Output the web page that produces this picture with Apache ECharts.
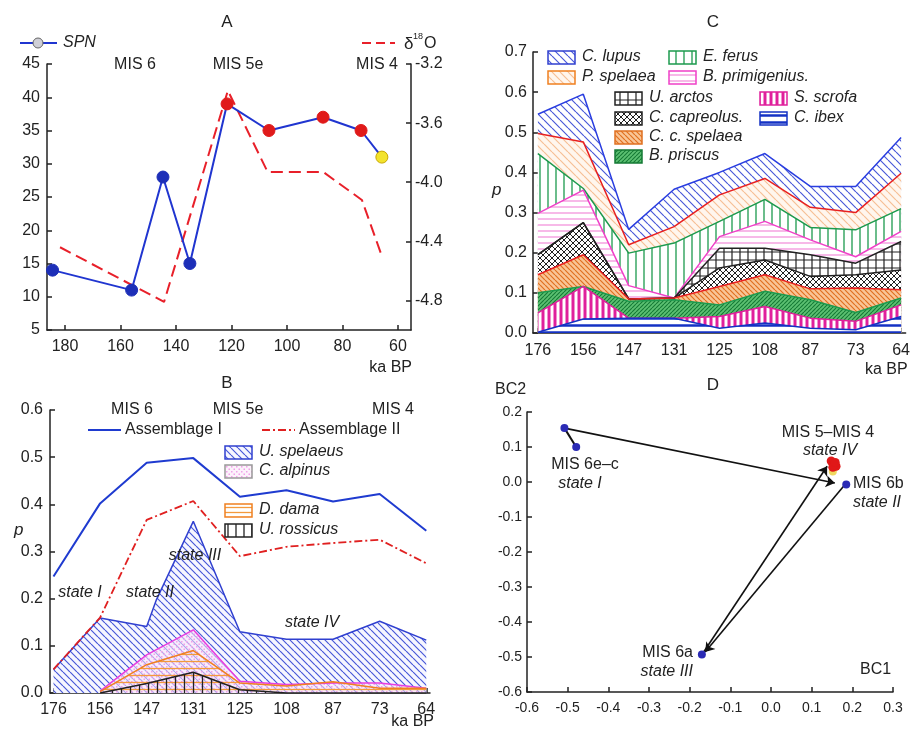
<!DOCTYPE html>
<html>
<head>
<meta charset="utf-8">
<script src="https://cdn.jsdelivr.net/npm/echarts@6/dist/echarts.min.js"></script>
<style>
html,body{margin:0;padding:0;background:#fff}
#main{width:913px;height:732px}
</style>
</head>
<body>
<div id="main"></div>
<script>
// ---- panel A: SPN and d18O against age (ka BP)
const spnAge = [184.5, 156, 144.7, 135, 121.6, 106.5, 87, 73.3, 65.8];
const spnVal = [14, 11, 28, 15, 39, 35, 37, 35, 31];
const spnState = ['b', 'b', 'b', 'b', 'r', 'r', 'r', 'r', 'y'];
const d18Age = [181.8, 144.3, 121.3, 107, 87, 73, 65.8];
const d18Val = [-4.44, -4.81, -3.38, -3.93, -3.93, -4.12, -4.5];
const ageTicksA = [180, 160, 140, 120, 100, 80, 60];
const d18Ticks = [-4.8, -4.4, -4.0, -3.6, -3.2];

// ---- panel B: assemblage I / II and species proportions
const ageCats = ['176', '156', '147', '131', '125', '108', '87', '73', '64'];
const assemblageI = [0.247, 0.402, 0.488, 0.498, 0.416, 0.43, 0.406, 0.422, 0.344];
const assemblageII = [0.05, 0.16, 0.367, 0.407, 0.29, 0.31, 0.318, 0.325, 0.275];
const uSpelaeusPos = [0, 1, 2, 2.21, 3, 4, 5, 6, 7, 8];
const uSpelaeus = [0.05, 0.159, 0.141, 0.198, 0.364, 0.13, 0.114, 0.114, 0.152, 0.112];
const cAlpinus = [null, 0.004, 0.081, 0.134, 0.025, 0.018, 0.021, 0.021, 0.01];
const dDama = [null, 0.003, 0.06, 0.09, 0.021, 0.015, 0.024, 0.01, 0.01];
const uRossicus = [null, 0, 0.02, 0.044, 0.007, 0, 0, 0, 0];

// ---- panel C: cumulative proportions (upper boundary of each band)
const cLupus = [0.545, 0.595, 0.258, 0.358, 0.40, 0.447, 0.365, 0.365, 0.487];
const pSpelaea = [0.497, 0.476, 0.22, 0.265, 0.344, 0.385, 0.313, 0.30, 0.398];
const eFerus = [0.447, 0.36, 0.199, 0.224, 0.278, 0.333, 0.263, 0.257, 0.31];
const bPrimigenius = [0.298, 0.356, 0.118, 0.087, 0.24, 0.278, 0.232, 0.19, 0.253];
const uArctos = [0.195, 0.275, 0.085, 0.087, 0.211, 0.211, 0.195, 0.174, 0.228];
const cCapreolus = [0.195, 0.275, 0.085, 0.087, 0.162, 0.182, 0.141, 0.145, 0.157];
const ccSpelaea = [0.145, 0.195, 0.085, 0.087, 0.116, 0.145, 0.11, 0.112, 0.108];
const bPriscus = [0.10, 0.116, 0.079, 0.083, 0.07, 0.104, 0.083, 0.051, 0.087];
const sScrofa = [0.05, 0.116, 0.037, 0.037, 0.041, 0.066, 0.037, 0.029, 0.07];
const cIbex = [0.002, 0.035, 0.037, 0.037, 0.012, 0.025, 0.012, 0.008, 0.041];

// ---- panel D: BC1 / BC2 ordination
const stateBlue = [[-0.508, 0.154], [-0.479, 0.10], [0.185, -0.007], [-0.17, -0.493]];
const stateRed = [[0.148, 0.06], [0.155, 0.05], [0.16, 0.045], [0.152, 0.042], [0.158, 0.056]];
const stateYellow = [[0.152, 0.03]];
const bcLink = [[-0.508, 0.154], [-0.479, 0.10]];
const bcArrows = [
  [[-0.508, 0.154], [0.157, -0.003]],
  [[0.18, -0.01], [-0.162, -0.486]],
  [[-0.168, -0.49], [0.138, 0.045]]
];

function hatch(kind, line, bg, s, w) {
  const c = document.createElement('canvas');
  c.width = s; c.height = s;
  const g = c.getContext('2d');
  if (bg) { g.fillStyle = bg; g.fillRect(0, 0, s, s); }
  g.strokeStyle = line; g.fillStyle = line; g.lineWidth = w;
  g.beginPath();
  if (kind === 'back' || kind === 'cross') {
    for (const k of [-s, 0, s]) { g.moveTo(k, 0); g.lineTo(k + s, s); }
  }
  if (kind === 'fwd' || kind === 'cross') {
    for (const k of [-s, 0, s]) { g.moveTo(k, s); g.lineTo(k + s, 0); }
  }
  if (kind === 'v' || kind === 'grid') { g.moveTo(s / 2, 0); g.lineTo(s / 2, s); }
  if (kind === 'h' || kind === 'grid') { g.moveTo(0, s / 2); g.lineTo(s, s / 2); }
  g.stroke();
  if (kind === 'dots') { g.fillRect(1, 1, 1.5, 1.5); g.fillRect(s / 2 + 1, s / 2 + 1, 1.5, 1.5); }
  return { image: c, repeat: 'repeat' };
}

const pat = {
  uSpel: hatch('back', '#4858d8', '#f6f6ff', 7, 1.2),
  cAlp: hatch('dots', '#f0a0ea', 'rgba(252,230,250,0.55)', 5, 1),
  dDama: hatch('h', '#f39a3c', null, 7, 1.3),
  uRoss: hatch('v', '#222', null, 9, 1.3),
  cLup: hatch('back', '#4a5ad8', '#ffffff', 8, 1.2),
  pSpel: hatch('back', '#f6bf95', '#fff6ee', 8, 1.2),
  eFer: hatch('v', '#1d9a4e', '#ffffff', 8, 1.3),
  bPrim: hatch('h', '#f28ad8', '#ffffff', 6, 1.2),
  uArc: hatch('grid', '#222', '#ffffff', 8, 1.2),
  cCap: hatch('cross', '#222', '#ffffff', 6, 1),
  ccSpel: hatch('back', '#e07020', '#f9c596', 5, 1.2),
  bPris: hatch('fwd', '#157a35', '#5cc072', 4, 1.1),
  sScr: hatch('v', '#e0209c', '#ffffff', 6, 3),
  cIbex: hatch('h', '#1432c4', '#ffffff', 7, 2.5)
};
const legPat = {
  cAlp: hatch('dots', '#f0a0ea', '#fcf2fb', 5, 1),
  dDama: hatch('h', '#f39a3c', '#ffffff', 5, 1.3),
  uRoss: hatch('v', '#222', '#ffffff', 8, 1.3)
};

const FONT = 'Liberation Sans, Arial, sans-serif';
const axisLine = { onZero: false, lineStyle: { color: '#222', width: 1.5 } };
const tick = { inside: true, length: 5, lineStyle: { color: '#222', width: 1.5 } };
const lbl = (size, margin, fmt) => ({ fontFamily: FONT, fontSize: size, color: '#222', margin: margin, formatter: fmt });
const f1 = v => (Math.abs(v) < 1e-9 ? '0.0' : v.toFixed(1));
const catFmt = v => ageCats[Math.round(v)];

function band(name, xi, yi, data, fill, edge, w) {
  return {
    name: name, type: 'line', xAxisIndex: xi, yAxisIndex: yi,
    data: data.map((v, i) => [i, v]), symbol: 'none',
    lineStyle: { color: edge, width: w || 1.5 },
    areaStyle: { color: fill, opacity: 1 }
  };
}

function txt(x, y, s, opt) {
  return {
    type: 'text', x: x, y: y, z: 100,
    style: Object.assign({ text: s, fontFamily: FONT, fontSize: 16, fill: '#222', textAlign: 'left', textVerticalAlign: 'middle' }, opt || {})
  };
}

function legendBox(x, y, fill, stroke, label) {
  return [
    { type: 'rect', z: 100, shape: { x: x, y: y - 6, width: 27, height: 13 }, style: { fill: fill, stroke: stroke, lineWidth: 1.5 } },
    txt(x + 34, y, label, { fontStyle: 'italic' })
  ];
}

const chart = echarts.init(document.getElementById('main'));

const graphics = [
  // titles
  txt(227, 22, 'A', { textAlign: 'center', fontSize: 17 }),
  txt(227, 383, 'B', { textAlign: 'center', fontSize: 17 }),
  txt(713, 22, 'C', { textAlign: 'center', fontSize: 17 }),
  txt(713, 385, 'D', { textAlign: 'center', fontSize: 17 }),
  // panel A
  { type: 'line', z: 100, shape: { x1: 20, y1: 43, x2: 57, y2: 43 }, style: { stroke: '#2035d0', lineWidth: 2 } },
  { type: 'circle', z: 101, shape: { cx: 38, cy: 43, r: 5 }, style: { fill: '#cfcfd6', stroke: '#666', lineWidth: 1 } },
  txt(63, 43, 'SPN', { fontStyle: 'italic' }),
  { type: 'line', z: 100, shape: { x1: 362, y1: 43, x2: 395, y2: 43 }, style: { stroke: '#e8202a', lineWidth: 2, lineDash: [9, 5] } },
  txt(404, 44, 'δ', { fontSize: 17 }),
  txt(413, 37, '18', { fontSize: 9 }),
  txt(424, 44, 'O', { fontSize: 16 }),
  txt(135, 65, 'MIS 6', { textAlign: 'center' }),
  txt(238, 65, 'MIS 5e', { textAlign: 'center' }),
  txt(377, 65, 'MIS 4', { textAlign: 'center' }),
  txt(412, 368, 'ka BP', { textAlign: 'right' }),
  // panel B
  txt(132, 410, 'MIS 6', { textAlign: 'center' }),
  txt(238, 410, 'MIS 5e', { textAlign: 'center' }),
  txt(393, 410, 'MIS 4', { textAlign: 'center' }),
  { type: 'line', z: 100, shape: { x1: 88, y1: 430, x2: 121, y2: 430 }, style: { stroke: '#1f3bd0', lineWidth: 2 } },
  txt(125, 430, 'Assemblage I'),
  { type: 'line', z: 100, shape: { x1: 262, y1: 430, x2: 295, y2: 430 }, style: { stroke: '#e02020', lineWidth: 1.8, lineDash: [8, 3, 2, 3] } },
  txt(299, 430, 'Assemblage II'),
  ...legendBox(225, 452, pat.uSpel, '#3040d0', 'U. spelaeus'),
  ...legendBox(225, 471, legPat.cAlp, '#999', 'C. alpinus'),
  ...legendBox(225, 510, legPat.dDama, '#f08020', 'D. dama'),
  ...legendBox(225, 530, legPat.uRoss, '#222', 'U. rossicus'),
  txt(80, 593, 'state I', { fontStyle: 'italic', textAlign: 'center' }),
  txt(150, 593, 'state II', { fontStyle: 'italic', textAlign: 'center' }),
  txt(195, 556, 'state III', { fontStyle: 'italic', textAlign: 'center' }),
  txt(312, 623, 'state IV', { fontStyle: 'italic', textAlign: 'center' }),
  txt(14, 530, 'p', { fontStyle: 'italic', fontSize: 17 }),
  txt(434, 722, 'ka BP', { textAlign: 'right' }),
  // panel C
  ...legendBox(548, 57, pat.cLup, '#3040d0', 'C. lupus'),
  ...legendBox(669, 57, pat.eFer, '#1d9a4e', 'E. ferus'),
  ...legendBox(548, 77, pat.pSpel, '#f08020', 'P. spelaea'),
  ...legendBox(669, 77, pat.bPrim, '#f040c8', 'B. primigenius.'),
  ...legendBox(615, 98, pat.uArc, '#222', 'U. arctos'),
  ...legendBox(760, 98, pat.sScr, '#e0209c', 'S. scrofa'),
  ...legendBox(615, 118, pat.cCap, '#222', 'C. capreolus.'),
  ...legendBox(760, 118, pat.cIbex, '#1432c4', 'C. ibex'),
  ...legendBox(615, 137, pat.ccSpel, '#e07020', 'C. c. spelaea'),
  ...legendBox(615, 156, pat.bPris, '#157a35', 'B. priscus'),
  txt(492, 190, 'p', { fontStyle: 'italic', fontSize: 17 }),
  txt(865, 370, 'ka BP'),
  // panel D
  txt(495, 390, 'BC2'),
  txt(860, 670, 'BC1'),
  txt(585, 465, 'MIS 6e–c', { textAlign: 'center' }),
  txt(580, 484, 'state I', { fontStyle: 'italic', textAlign: 'center' }),
  txt(828, 433, 'MIS 5–MIS 4', { textAlign: 'center' }),
  txt(830, 451, 'state IV', { fontStyle: 'italic', textAlign: 'center' }),
  txt(853, 484, 'MIS 6b'),
  txt(853, 503, 'state II', { fontStyle: 'italic' }),
  txt(693, 653, 'MIS 6a', { textAlign: 'right' }),
  txt(693, 672, 'state III', { fontStyle: 'italic', textAlign: 'right' })
];

const spnColors = { b: '#1d2fb8', r: '#e01a1a', y: '#f3e32c' };

chart.setOption({
  backgroundColor: '#ffffff',
  animation: false,
  grid: [
    { left: 47, top: 64, width: 364, height: 266 },
    { left: 50, top: 410, width: 380, height: 283 },
    { left: 533, top: 52, width: 380, height: 281 },
    { left: 527, top: 412, width: 366, height: 280 }
  ],
  xAxis: [
    { gridIndex: 0, type: 'value', inverse: true, min: 55.3, max: 186.5, axisLine: axisLine,
      axisTick: Object.assign({ customValues: ageTicksA }, tick), splitLine: { show: false },
      axisLabel: Object.assign({ customValues: ageTicksA }, lbl(16, 9)) },
    { gridIndex: 1, type: 'value', min: -0.075, max: 8.08, axisLine: axisLine,
      axisTick: Object.assign({ customValues: ageCats.map((c, i) => i) }, tick), splitLine: { show: false },
      axisLabel: Object.assign({ customValues: ageCats.map((c, i) => i) }, lbl(16, 9, catFmt)) },
    { gridIndex: 2, type: 'value', min: -0.108, max: 8.1, axisLine: axisLine,
      axisTick: Object.assign({ customValues: ageCats.map((c, i) => i) }, tick), splitLine: { show: false },
      axisLabel: Object.assign({ customValues: ageCats.map((c, i) => i) }, lbl(16, 10, catFmt)) },
    { gridIndex: 3, type: 'value', min: -0.6, max: 0.3, interval: 0.1, axisLine: axisLine,
      axisTick: tick, splitLine: { show: false }, axisLabel: lbl(14, 9, f1) }
  ],
  yAxis: [
    { gridIndex: 0, type: 'value', min: 5, max: 45, interval: 5, axisLine: axisLine, axisTick: tick,
      splitLine: { show: false }, axisLabel: lbl(16, 7) },
    { gridIndex: 0, type: 'value', position: 'right', min: -5.0, max: -3.2, axisLine: Object.assign({ show: true }, axisLine),
      axisTick: Object.assign({ customValues: d18Ticks }, tick), splitLine: { show: false },
      axisLabel: Object.assign({ customValues: d18Ticks }, lbl(16, 4, f1)) },
    { gridIndex: 1, type: 'value', min: 0, max: 0.6, interval: 0.1, axisLine: axisLine, axisTick: tick,
      splitLine: { show: false }, axisLabel: lbl(16, 7, f1) },
    { gridIndex: 2, type: 'value', min: 0, max: 0.7, interval: 0.1, axisLine: axisLine, axisTick: tick,
      splitLine: { show: false }, axisLabel: lbl(16, 6, f1) },
    { gridIndex: 3, type: 'value', min: -0.6, max: 0.2, interval: 0.1, axisLine: axisLine, axisTick: tick,
      splitLine: { show: false }, axisLabel: lbl(14, 5, f1) }
  ],
  series: [
    // A
    { name: 'd18O', type: 'line', xAxisIndex: 0, yAxisIndex: 1, symbol: 'none',
      data: d18Age.map((a, i) => [a, d18Val[i]]),
      lineStyle: { color: '#e8202a', width: 2, type: [12, 6] } },
    { name: 'SPN', type: 'line', xAxisIndex: 0, yAxisIndex: 0, symbol: 'circle', symbolSize: 12,
      data: spnAge.map((a, i) => ({ value: [a, spnVal[i]], itemStyle: { color: spnColors[spnState[i]], borderColor: spnState[i] === 'y' ? '#c9a800' : spnColors[spnState[i]], borderWidth: 1 } })),
      lineStyle: { color: '#2035d0', width: 2 } },
    // B
    { name: 'U. spelaeus', type: 'line', xAxisIndex: 1, yAxisIndex: 2, symbol: 'none',
      data: uSpelaeusPos.map((p, i) => [p, uSpelaeus[i]]),
      lineStyle: { color: '#3040d0', width: 1.5 }, areaStyle: { color: pat.uSpel, opacity: 1 } },
    band('C. alpinus', 1, 2, cAlpinus, pat.cAlp, '#e83ee0'),
    band('D. dama', 1, 2, dDama, pat.dDama, '#f08020'),
    band('U. rossicus', 1, 2, uRossicus, pat.uRoss, '#222'),
    { name: 'Assemblage I', type: 'line', xAxisIndex: 1, yAxisIndex: 2, symbol: 'none',
      data: assemblageI.map((v, i) => [i, v]), lineStyle: { color: '#1f3bd0', width: 2 } },
    { name: 'Assemblage II', type: 'line', xAxisIndex: 1, yAxisIndex: 2, symbol: 'none',
      data: assemblageII.map((v, i) => [i, v]), lineStyle: { color: '#e02020', width: 1.8, type: [8, 3, 2, 3] } },
    // C
    band('C. lupus', 2, 3, cLupus, pat.cLup, '#2a3ee0'),
    band('P. spelaea', 2, 3, pSpelaea, pat.pSpel, '#e82020'),
    band('E. ferus', 2, 3, eFerus, pat.eFer, '#1d9a4e'),
    band('B. primigenius', 2, 3, bPrimigenius, pat.bPrim, '#f040c8'),
    band('U. arctos', 2, 3, uArctos, pat.uArc, '#222'),
    band('C. capreolus', 2, 3, cCapreolus, pat.cCap, '#222'),
    band('C. c. spelaea', 2, 3, ccSpelaea, pat.ccSpel, '#e82020'),
    band('B. priscus', 2, 3, bPriscus, pat.bPris, '#1d9a4e'),
    band('S. scrofa', 2, 3, sScrofa, pat.sScr, '#e0209c'),
    band('C. ibex', 2, 3, cIbex, pat.cIbex, '#1432c4'),
    // D
    { type: 'lines', coordinateSystem: 'cartesian2d', xAxisIndex: 3, yAxisIndex: 4,
      data: [{ coords: bcLink }], lineStyle: { color: '#111', width: 2, opacity: 1 }, symbol: 'none' },
    { type: 'lines', coordinateSystem: 'cartesian2d', xAxisIndex: 3, yAxisIndex: 4,
      data: bcArrows.map(c => ({ coords: c })), lineStyle: { color: '#111', width: 1.6, opacity: 1 },
      symbol: ['none', 'arrow'], symbolSize: 9 },
    { type: 'scatter', xAxisIndex: 3, yAxisIndex: 4, data: stateBlue, symbolSize: 8, itemStyle: { color: '#2b2bb5', opacity: 1 } },
    { type: 'scatter', xAxisIndex: 3, yAxisIndex: 4, data: stateYellow, symbolSize: 8, itemStyle: { color: '#f0d860', opacity: 1 } },
    { type: 'scatter', xAxisIndex: 3, yAxisIndex: 4, data: stateRed, symbolSize: 9, itemStyle: { color: '#e01818', opacity: 1 } }
  ],
  graphic: graphics
});
</script>
</body>
</html>
